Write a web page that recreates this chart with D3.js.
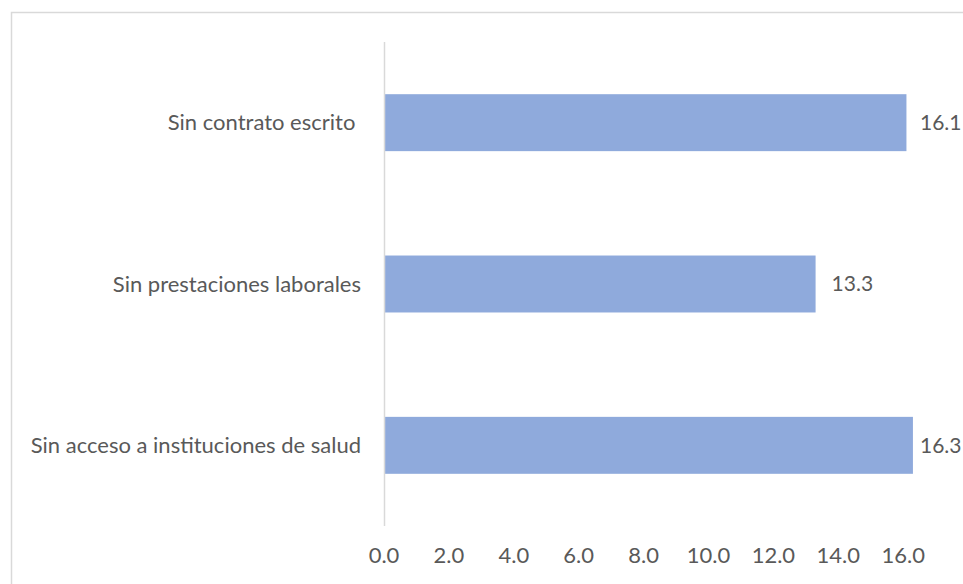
<!DOCTYPE html>
<html>
<head>
<meta charset="utf-8">
<script src="https://cdn.jsdelivr.net/npm/d3@7"></script>
<style>
  body { margin: 0; background: #fff; }
  svg text { font-family: Lato, "Open Sans", sans-serif; fill: #595959; white-space: pre; }
</style>
</head>
<body>
<svg id="chart" width="963" height="584"></svg>
<script>
  var CATEGORIES = ["Sin contrato escrito ", "Sin prestaciones laborales", "Sin acceso a instituciones de salud"];
  var VALUES = [16.1, 13.3, 16.3];
  var TICKS = [0, 2, 4, 6, 8, 10, 12, 14, 16];

  var PLOT_LEFT = 384;
  var PLOT_TOP = 42;
  var PLOT_BOTTOM = 526;
  var PX_PER_UNIT = 32.45;
  var BAR_COLOR = "#8faadc";
  var FONT_SIZE = "22px";

  var svg = d3.select("#chart");

  // chart border (cut off at right and bottom, like the picture)
  svg.append("rect")
    .attr("x", 11.5)
    .attr("y", 12.5)
    .attr("width", 1000)
    .attr("height", 1000)
    .style("fill", "none")
    .style("stroke", "#d9d9d9")
    .style("stroke-width", 1.5);

  var x = d3.scaleLinear()
    .domain([0, 18])
    .range([PLOT_LEFT, PLOT_LEFT + 18 * PX_PER_UNIT]);

  var y = d3.scaleBand()
    .domain(CATEGORIES)
    .range([PLOT_TOP, PLOT_BOTTOM])
    .paddingInner(0.647)
    .paddingOuter(0.3235);

  svg.selectAll("rect.bar")
    .data(VALUES)
    .enter().append("rect")
    .classed("bar", true)
    .attr("x", x(0))
    .attr("y", function (d, i) { return y(CATEGORIES[i]); })
    .attr("width", function (d) { return x(d) - x(0); })
    .attr("height", y.bandwidth())
    .style("fill", BAR_COLOR);

  // vertical axis line
  svg.append("line")
    .attr("x1", x(0) + 0.5)
    .attr("x2", x(0) + 0.5)
    .attr("y1", PLOT_TOP)
    .attr("y2", PLOT_BOTTOM)
    .style("stroke", "#d9d9d9")
    .style("stroke-width", 1.5);

  // category labels
  svg.selectAll("text.cat")
    .data(CATEGORIES)
    .enter().append("text")
    .classed("cat", true)
    .attr("x", 361)
    .attr("y", function (d) { return y(d) + y.bandwidth() / 2; })
    .attr("dy", "0.35em")
    .attr("text-anchor", "end")
    .style("font-size", FONT_SIZE)
    .text(function (d) { return d; });

  // value labels (pushed in where they would run off the edge)
  svg.selectAll("text.val")
    .data(VALUES)
    .enter().append("text")
    .classed("val", true)
    .attr("x", function (d) { return Math.min(x(d) + 16, 920); })
    .attr("y", function (d, i) { return y(CATEGORIES[i]) + y.bandwidth() / 2; })
    .attr("dy", "0.35em")
    .style("font-size", "21px")
    .text(function (d) { return d.toFixed(1); });

  // x tick labels
  svg.selectAll("text.tick")
    .data(TICKS)
    .enter().append("text")
    .classed("tick", true)
    .attr("x", function (d) { return x(d); })
    .attr("y", 555)
    .attr("dy", "0.35em")
    .attr("text-anchor", "middle")
    .style("font-size", FONT_SIZE)
    .text(function (d) { return d.toFixed(1); });
</script>
</body>
</html>
